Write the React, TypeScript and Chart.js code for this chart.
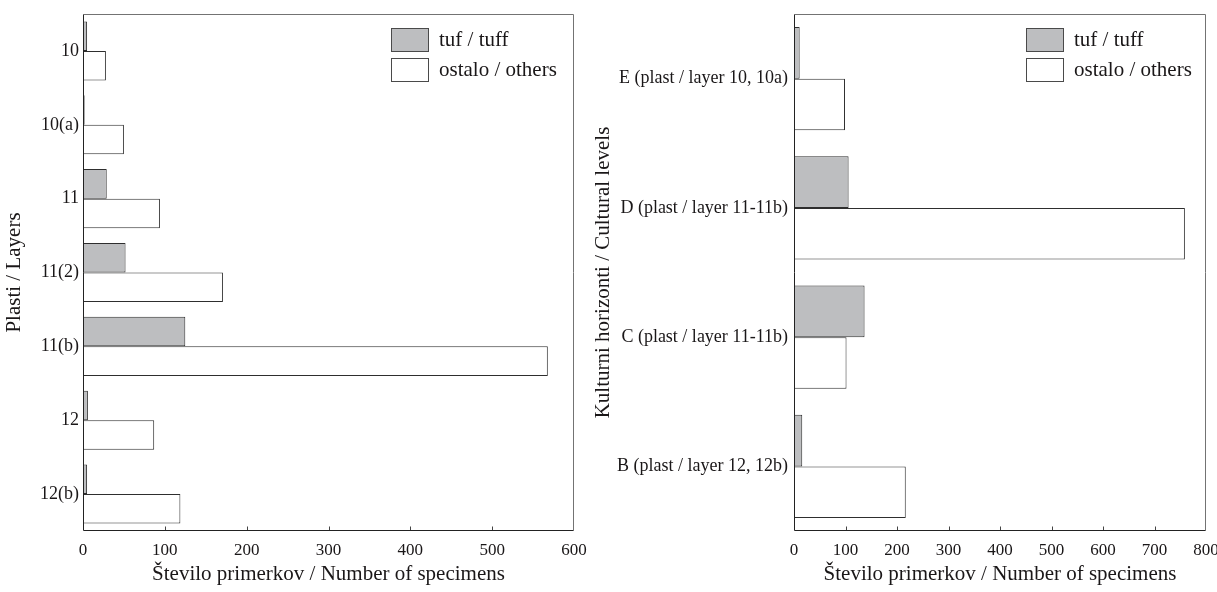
import React, { useEffect, useRef } from "react";
import { Chart, registerables } from "chart.js";

Chart.register(...registerables);

// Layers (left panel)
const layerLabels = ["10", "10(a)", "11", "11(2)", "11(b)", "12", "12(b)"];
const layerTuff = [5, 2, 29, 52, 125, 6, 5];
const layerOthers = [28, 50, 94, 171, 568, 87, 119];

// Cultural levels (right panel)
const levelLabels = [
  "E (plast / layer 10, 10a)",
  "D (plast / layer 11-11b)",
  "C (plast / layer 11-11b)",
  "B (plast / layer 12, 12b)",
];
const levelTuff = [11, 106, 137, 16];
const levelOthers = [99, 759, 102, 217];

const seriesNames = ["tuf / tuff", "ostalo / others"];
const xTitle = "Število primerkov / Number of specimens";
const layersTitle = "Plasti / Layers";
const levelsTitle = "Kulturni horizonti / Cultural levels";

const FONT = "'Liberation Serif', 'Times New Roman', serif";
const INK = "#1a1718";
const TUFF_FILL = "#bdbec0";
const BAR_EDGE = "#2e2e2e";

// Draws the plot frame, inward x ticks and the in-plot legend.
const framePlugin = {
  id: "frameAndLegend",
  afterDatasetsDraw(chart: any, _args: any, opts: any) {
    const { ctx, chartArea: a, scales } = chart;
    const xs = scales.x;
    ctx.save();
    ctx.lineWidth = 1;

    const L = Math.round(a.left) + 0.5;
    const R = Math.round(a.right) - 0.5;
    const T = Math.round(a.top) + 0.5;
    const B = Math.round(a.bottom) - 0.5;

    // inward tick marks on the value axis
    ctx.strokeStyle = "#444";
    xs.ticks.forEach((t: any) => {
      if (t.value > xs.min && t.value < xs.max) {
        const px = Math.round(xs.getPixelForValue(t.value)) + 0.5;
        ctx.beginPath();
        ctx.moveTo(px, B);
        ctx.lineTo(px, B - 4);
        ctx.stroke();
      }
    });

    // top and right edges
    ctx.strokeStyle = "#737373";
    ctx.beginPath();
    ctx.moveTo(L, T);
    ctx.lineTo(R, T);
    ctx.lineTo(R, B);
    ctx.stroke();

    // left and bottom axis lines
    ctx.strokeStyle = "#222";
    ctx.beginPath();
    ctx.moveTo(L, T);
    ctx.lineTo(L, B);
    ctx.lineTo(R, B);
    ctx.stroke();

    // legend
    const bx = Math.round(a.right - opts.offset);
    let by = Math.round(a.top + 14);
    ctx.font = `21px ${FONT}`;
    ctx.textBaseline = "middle";
    ctx.textAlign = "left";
    chart.data.datasets.forEach((ds: any) => {
      ctx.fillStyle = ds.backgroundColor;
      ctx.fillRect(bx, by, 38, 24);
      ctx.strokeStyle = "#4a4a4a";
      ctx.strokeRect(bx + 0.5, by + 0.5, 37, 23);
      ctx.fillStyle = INK;
      ctx.fillText(ds.label, bx + 48, by + 12);
      by += 30;
    });
    ctx.restore();
  },
};

type PanelProps = {
  labels: string[];
  tuff: number[];
  others: number[];
  xMax: number;
  yTitle: string;
  width: number;
  axisWidth: number;
  rightPad: number;
  legendOffset: number;
  tickPad: number;
  titlePad: number;
};

function Panel(p: PanelProps) {
  const ref = useRef<HTMLCanvasElement | null>(null);

  useEffect(() => {
    if (!ref.current) return;
    const chart = new Chart(ref.current, {
      type: "bar",
      data: {
        labels: p.labels,
        datasets: [
          {
            label: seriesNames[0],
            data: p.tuff,
            backgroundColor: TUFF_FILL,
            borderColor: BAR_EDGE,
            borderWidth: 1,
          },
          {
            label: seriesNames[1],
            data: p.others,
            backgroundColor: "#ffffff",
            borderColor: BAR_EDGE,
            borderWidth: 1,
          },
        ],
      },
      options: {
        indexAxis: "y",
        responsive: false,
        animation: false,
        devicePixelRatio: 1,
        layout: { padding: { top: 14, right: p.rightPad, left: 0, bottom: 0 } },
        datasets: { bar: { categoryPercentage: 0.8, barPercentage: 1.0 } },
        plugins: {
          legend: { display: false },
          tooltip: { enabled: false },
          frameAndLegend: { offset: p.legendOffset },
        } as any,
        scales: {
          x: {
            type: "linear",
            min: 0,
            max: p.xMax,
            ticks: {
              stepSize: 100,
              color: INK,
              padding: 9,
              font: { family: FONT, size: 17 },
            },
            grid: { display: false, drawTicks: false },
            border: { display: false },
            title: {
              display: true,
              text: xTitle,
              color: INK,
              font: { family: FONT, size: 21 },
              padding: { top: 0, bottom: 5 },
            },
            afterFit: (s: any) => {
              s.height = 61;
              s.paddingLeft = 0;
              s.paddingRight = 0;
            },
          },
          y: {
            type: "category",
            ticks: {
              color: INK,
              padding: p.tickPad,
              autoSkip: false,
              font: { family: FONT, size: 18 },
            },
            grid: { display: false, drawTicks: false },
            border: { display: false },
            title: {
              display: true,
              text: p.yTitle,
              color: INK,
              font: { family: FONT, size: 21 },
              padding: { top: p.titlePad, bottom: 0 },
            },
            afterFit: (s: any) => {
              s.width = p.axisWidth;
              s.paddingTop = 0;
              s.paddingBottom = 0;
            },
          },
        },
      },
      plugins: [framePlugin],
    });
    return () => chart.destroy();
  }, []);

  return <canvas ref={ref} width={p.width} height={592} style={{ display: "block" }} />;
}

export default function App() {
  return (
    <div
      style={{
        position: "absolute",
        left: 0,
        top: 0,
        width: 1217,
        height: 592,
        background: "#ffffff",
        display: "flex",
      }}
    >
      <Panel
        labels={layerLabels}
        tuff={layerTuff}
        others={layerOthers}
        xMax={600}
        yTitle={layersTitle}
        width={590}
        axisWidth={83}
        rightPad={16}
        legendOffset={183}
        tickPad={4}
        titlePad={2}
      />
      <Panel
        labels={levelLabels}
        tuff={levelTuff}
        others={levelOthers}
        xMax={800}
        yTitle={levelsTitle}
        width={627}
        axisWidth={204}
        rightPad={11}
        legendOffset={180}
        tickPad={6}
        titlePad={1}
      />
    </div>
  );
}
